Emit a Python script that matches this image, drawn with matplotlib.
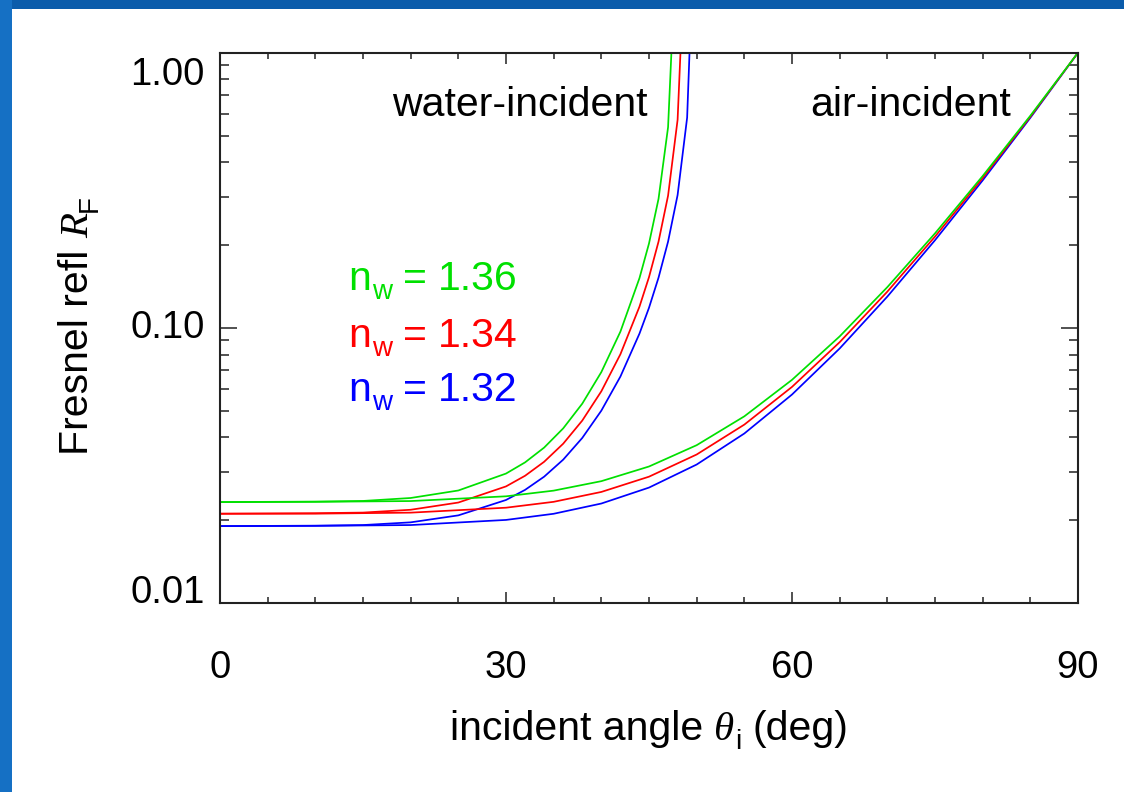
import matplotlib
matplotlib.use("Agg")
import matplotlib.pyplot as plt
from matplotlib.patches import Rectangle
from matplotlib.transforms import ScaledTranslation
from matplotlib.ticker import (MultipleLocator, LogLocator, NullFormatter,
                               FormatStrFormatter)

# ---- data: Fresnel reflectance vs incident angle -------------------------
n_labels = ["1.32", "1.34", "1.36"]
line_colors = ["#0000ff", "#ff0000", "#00e000"]

# air-incident (light going from air into water)
theta_air = [0, 10, 20, 30, 35, 40, 45, 50, 55, 60, 65, 70, 75, 80, 85, 90]
refl_air_132 = [0.01903, 0.01907, 0.01920, 0.02004, 0.02110, 0.02299, 0.02627,
                0.03186, 0.04131, 0.05723, 0.08415, 0.1299, 0.2082, 0.3435,
                0.5800, 1.0]
refl_air_134 = [0.02111, 0.02112, 0.02130, 0.02220, 0.02332, 0.02533, 0.02878,
                0.03465, 0.04450, 0.06101, 0.08870, 0.1354, 0.2146, 0.3502,
                0.5853, 1.0]
refl_air_136 = [0.02327, 0.02332, 0.02347, 0.02442, 0.02561, 0.02772, 0.03134,
                0.03746, 0.04769, 0.06472, 0.09310, 0.1406, 0.2205, 0.3563,
                0.5901, 1.0]

# water-incident (light going from water into air), up to total reflection
theta_w_132 = [0, 10, 15, 20, 25, 30, 32, 34, 36, 38, 40, 42, 44, 45, 46, 47,
               48, 49, 49.25]
refl_w_132 = [0.01903, 0.01910, 0.01920, 0.01964, 0.02082, 0.02368, 0.02577,
              0.02878, 0.03319, 0.03980, 0.05001, 0.06652, 0.09528, 0.1183,
              0.1522, 0.2058, 0.3039, 0.5809, 1.0]
theta_w_134 = [0, 10, 15, 20, 25, 30, 32, 34, 36, 38, 40, 42, 44, 45, 46, 47,
               48, 48.3]
refl_w_134 = [0.02111, 0.02120, 0.02131, 0.02182, 0.02318, 0.02653, 0.02900,
              0.03260, 0.03793, 0.04603, 0.05881, 0.08018, 0.1194, 0.1529,
              0.2058, 0.3023, 0.5705, 1.0]
theta_w_136 = [0, 10, 15, 20, 25, 30, 32, 34, 36, 38, 40, 42, 44, 45, 46, 47,
               47.35]
refl_w_136 = [0.02327, 0.02336, 0.02349, 0.02408, 0.02564, 0.02954, 0.03244,
              0.03671, 0.04312, 0.05303, 0.06906, 0.09688, 0.1516, 0.2026,
              0.2944, 0.5361, 1.0]

x_major = [0, 30, 60, 90]
y_major = [0.01, 0.10, 1.00]

# ---- style --------------------------------------------------------------
plt.rcParams["font.family"] = ["Liberation Sans", "DejaVu Sans"]

W, H = 1124, 792
BIG, SMALL = 29.5, 20
SERIF_IT = dict(family="Liberation Serif", style="italic")

fig = plt.figure(figsize=(W / 100, H / 100), dpi=100, facecolor="white")
renderer = fig.canvas.get_renderer()

# slide frame strips
fig.patches.append(Rectangle((0, 1 - 9 / H), 1, 9 / H, transform=fig.transFigure,
                             facecolor="#0b5cab", edgecolor="none", zorder=0))
fig.patches.append(Rectangle((0, 0), 12 / W, 1, transform=fig.transFigure,
                             facecolor="#1570c4", edgecolor="none", zorder=0))

ax = fig.add_axes([220 / W, 1 - 603 / H, 858 / W, 550.3 / H])
ax.set_yscale("log")
ax.set_xlim(0, 90)
ax.set_ylim(0.01, 1.0)

water = [(theta_w_132, refl_w_132), (theta_w_134, refl_w_134),
         (theta_w_136, refl_w_136)]
air = [refl_air_132, refl_air_134, refl_air_136]
for (tw, rw), ra, c in zip(water, air, line_colors):
    ax.plot(tw, rw, color=c, lw=1.25, solid_joinstyle="round")
    ax.plot(theta_air, ra, color=c, lw=1.25, solid_joinstyle="round")

# axes frame and ticks
for sp in ax.spines.values():
    sp.set_linewidth(1.5)
    sp.set_color("#222222")
ax.set_xticks(x_major)
ax.xaxis.set_minor_locator(MultipleLocator(5))
ax.set_yticks(y_major)
ax.yaxis.set_major_formatter(FormatStrFormatter("%.2f"))
ax.yaxis.set_minor_locator(LogLocator(base=10, subs=range(2, 10)))
ax.yaxis.set_minor_formatter(NullFormatter())
ax.tick_params(which="both", direction="in", top=True, right=True,
               width=1.1, color="#222222", labelsize=27.5, labelcolor="black")
ax.tick_params(axis="x", which="major", length=8, pad=34)
ax.tick_params(axis="x", which="minor", length=4)
ax.tick_params(axis="y", which="major", length=12.4, pad=11)
ax.tick_params(axis="y", which="minor", length=6.2)

# end labels of the y axis sit inside the axis span
yt = ax.yaxis.get_major_ticks()
yt[0].label1.set_verticalalignment("baseline")
yt[1].label1.set_verticalalignment("center")
yt[2].label1.set_verticalalignment("top")
yt[2].label1.set_transform(yt[2].label1.get_transform()
                           + ScaledTranslation(0, -4 / 100, fig.dpi_scale_trans))


def text_run(x0, y0, parts, rotation=0, center=False):
    """Lay out text pieces one after another, starting at pixel (x0, y0)
    measured from the top-left; each piece is (text, size, font kw, gap
    before it in px, baseline drop in px, colour)."""
    placed = []
    pos = 0.0
    for s, size, kw, gap, drop, color in parts:
        pos += gap
        if rotation == 0:
            x, y = x0 + pos, y0 + drop
        else:
            x, y = x0 + drop, y0 - pos
        t = fig.text(x / W, 1 - y / H, s, fontsize=size, color=color,
                     ha="left", va="baseline", rotation=rotation,
                     rotation_mode="anchor", **kw)
        bb = t.get_window_extent(renderer)
        pos += bb.width if rotation == 0 else bb.height
        placed.append(t)
    if center:
        for t in placed:
            px, py = t.get_position()
            if rotation == 0:
                t.set_position((px - pos / 2 / W, py))
            else:
                t.set_position((px, py - pos / 2 / H))
    return placed


# x-axis title, centred under the axes
text_run(649, 740, [
    ("incident angle", BIG, {}, 0, 0, "black"),
    ("\u03b8", BIG, SERIF_IT, 11, 0, "black"),
    ("i", SMALL, {}, 1, 9, "black"),
    ("(deg)", BIG, {}, 11, 0, "black"),
], center=True)

# y-axis title, rotated
text_run(88, 325, [
    ("Fresnel refl", BIG, {}, 0, 0, "black"),
    ("R", BIG, SERIF_IT, 11, 0, "black"),
    ("F", SMALL, {}, 1, 9, "black"),
], rotation=90, center=True)

# region annotations
ax.text(0.35, 0.885, "water-incident", transform=ax.transAxes, ha="center",
        va="baseline", fontsize=BIG)
ax.text(0.805, 0.885, "air-incident", transform=ax.transAxes, ha="center",
        va="baseline", fontsize=BIG)

# refractive index key
for lab, c, yb in zip(n_labels[::-1], line_colors[::-1], [290, 347, 401]):
    text_run(348, yb, [
        ("n", BIG, {}, 0, 0, c),
        ("w", SMALL, {}, 1, 9, c),
        ("=", BIG, {}, 11, 0, c),
        (lab, BIG, {}, 11, 0, c),
    ])

fig.savefig("out.png", dpi=100, facecolor="white")
